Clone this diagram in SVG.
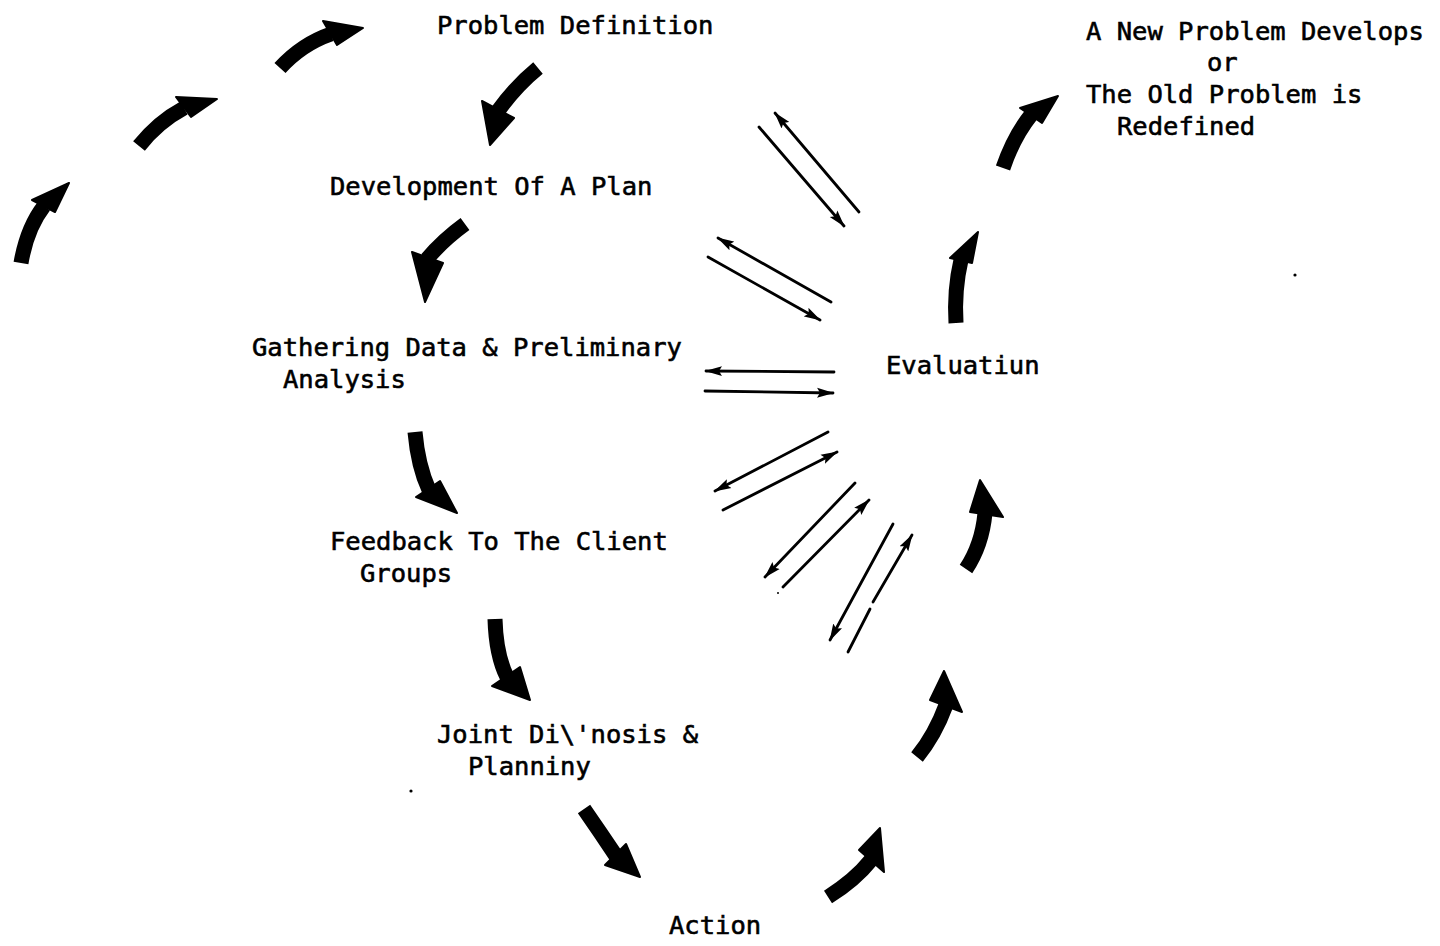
<svg xmlns="http://www.w3.org/2000/svg" width="1440" height="946" viewBox="0 0 1440 946">
<style>
text{font-family:"DejaVu Sans Mono","Liberation Mono",monospace;font-size:25.5px;fill:#000;stroke:#000;stroke-width:0.6}
.shaft{fill:none;stroke:#000;stroke-width:15;stroke-linecap:butt}
.head{fill:#000;stroke:#000;stroke-width:2;stroke-linejoin:round}
.thin{fill:none;stroke:#000;stroke-width:2.8;stroke-linecap:round}
</style>
<defs>
<marker id="ah" markerUnits="userSpaceOnUse" markerWidth="17" markerHeight="11" refX="16" refY="5.5" orient="auto">
<path d="M0,0.5 L17,5.5 L0,10.5 L3,5.5 z" fill="#000"/>
</marker>
</defs>
<rect width="1440" height="946" fill="#fff"/>

<g id="n-problem"><text x="437" y="34">Problem Definition</text></g>
<g id="n-plan"><text x="330" y="195">Development Of A Plan</text></g>
<g id="n-gathering"><text x="252" y="356">Gathering Data &amp; Preliminary</text><text x="283" y="388">Analysis</text></g>
<g id="n-feedback"><text x="330" y="550">Feedback To The Client</text><text x="360" y="582">Groups</text></g>
<g id="n-joint"><text x="437" y="743">Joint Di\'nosis &amp;</text><text x="468" y="775">Planniny</text></g>
<g id="n-action"><text x="669" y="934">Action</text></g>
<g id="n-evaluation"><text x="886" y="374">Evaluatiun</text></g>
<g id="n-new"><text x="1086" y="40">A New Problem Develops</text><text x="1207" y="71">or</text><text x="1086" y="103">The Old Problem is</text><text x="1117" y="135">Redefined</text></g>

<g id="connectors">
<g id="a1"><path class="shaft" d="M21,263 Q27,228 44,206"/><polygon class="head" points="69,183 32,200 55,212"/></g>
<g id="a2"><path class="shaft" d="M139,146 Q158,122 184,108"/><polygon class="head" points="217,99 176,97 191,117"/></g>
<g id="a3"><path class="shaft" d="M280,68 Q302,44 331,34"/><polygon class="head" points="363,28 323,21 337,45"/></g>
<g id="a4"><path class="shaft" d="M538,68 Q516,86 498,111"/><polygon class="head" points="490,145 482,101 514,118"/></g>
<g id="a5"><path class="shaft" d="M465,224 Q443,240 427,259"/><polygon class="head" points="425,302 412,252 443,263"/></g>
<g id="a6"><path class="shaft" d="M415,432 Q418,466 429,490"/><polygon class="head" points="457,513 416,497 440,481"/></g>
<g id="a7"><path class="shaft" d="M495,619 Q496,655 507,677"/><polygon class="head" points="530,700 492,686 520,667"/></g>
<g id="a8"><path class="shaft" d="M584,809 Q600,832 616,856"/><polygon class="head" points="640,877 605,865 626,844"/></g>
<g id="a9"><path class="shaft" d="M828,897 Q855,880 871,860"/><polygon class="head" points="880,828 859,850 884,872"/></g>
<g id="a10"><path class="shaft" d="M917,757 Q935,735 946,705"/><polygon class="head" points="944,671 930,700 962,712"/></g>
<g id="a11"><path class="shaft" d="M966,569 Q982,545 985,513"/><polygon class="head" points="980,480 970,512 1003,517"/></g>
<g id="a12"><path class="shaft" d="M956,323 Q954,290 961,260"/><polygon class="head" points="978,232 950,258 972,263"/></g>
<g id="a13"><path class="shaft" d="M1003,168 Q1014,136 1031,115"/><polygon class="head" points="1058,96 1020,108 1042,123"/></g>

<line class="thin" x1="759" y1="127" x2="844" y2="226" marker-end="url(#ah)"/>
<line class="thin" x1="859" y1="212" x2="775" y2="113" marker-end="url(#ah)"/>
<line class="thin" x1="708" y1="257" x2="820" y2="320" marker-end="url(#ah)"/>
<line class="thin" x1="831" y1="302" x2="718" y2="238" marker-end="url(#ah)"/>
<line class="thin" x1="834" y1="372" x2="706" y2="371" marker-end="url(#ah)"/>
<line class="thin" x1="705" y1="391" x2="833" y2="393" marker-end="url(#ah)"/>
<line class="thin" x1="828" y1="432" x2="715" y2="491" marker-end="url(#ah)"/>
<line class="thin" x1="723" y1="510" x2="837" y2="452" marker-end="url(#ah)"/>
<line class="thin" x1="855" y1="483" x2="765" y2="577" marker-end="url(#ah)"/>
<line class="thin" x1="783" y1="587" x2="869" y2="500" marker-end="url(#ah)"/>
<line class="thin" x1="893" y1="524" x2="830" y2="640" marker-end="url(#ah)"/>
<line class="thin" x1="848" y1="652" x2="870" y2="609"/>
<line class="thin" x1="873" y1="602" x2="912" y2="535" marker-end="url(#ah)"/>
</g>

<circle cx="1295" cy="275" r="1.6" fill="#000"/>
<circle cx="411" cy="791" r="1.6" fill="#000"/>
<circle cx="778" cy="593" r="1" fill="#000"/>
</svg>
